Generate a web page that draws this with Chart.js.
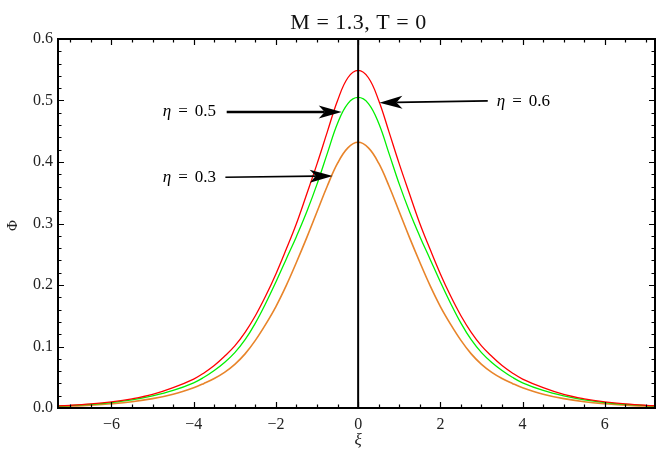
<!DOCTYPE html>
<html>
<head>
<meta charset="utf-8">
<script src="https://cdn.jsdelivr.net/npm/chart.js@4.4.0/dist/chart.umd.min.js"></script>
<style>
html,body{margin:0;padding:0;background:#fff;}
#wrap{width:659px;height:450px;position:relative;}
</style>
</head>
<body>
<div id="wrap"><canvas id="c" width="659" height="450"></canvas></div>
<script>
// ---- data ----
const xiValues = [-7.5,-7,-6.5,-6,-5.5,-5,-4.5,
  -4,-3.75,-3.5,-3.25,-3,-2.75,-2.5,-2.25,-2,-1.75,-1.5,-1.25,-1,-0.75,-0.5,-0.25,0,
  0.25,0.5,0.75,1,1.25,1.5,1.75,2,2.25,2.5,2.75,3,3.25,3.5,3.75,4,
  4.5,5,5.5,6,6.5,7,7.5];
const phiEta06 = [0.0029,0.0044,0.0066,0.0099,0.0148,0.022,0.033,
  0.047,0.057,0.069,0.084,0.101,0.123,0.150,0.182,0.218,0.258,0.300,0.348,0.397,0.449,0.500,0.537,0.549,
  0.537,0.500,0.449,0.397,0.348,0.300,0.258,0.218,0.182,0.150,0.123,0.101,0.084,0.069,0.057,0.047,
  0.033,0.022,0.0148,0.0099,0.0066,0.0044,0.0029];
const phiEta05 = [0.0026,0.0039,0.0059,0.0089,0.0133,0.0197,0.0285,
  0.041,0.050,0.061,0.074,0.090,0.111,0.138,0.170,0.205,0.242,0.279,0.319,0.364,0.414,0.463,0.495,0.505,
  0.495,0.463,0.414,0.364,0.319,0.279,0.242,0.205,0.170,0.138,0.111,0.090,0.074,0.061,0.050,0.041,
  0.0285,0.0197,0.0133,0.0089,0.0059,0.0039,0.0026];
const phiEta03 = [0.0021,0.0031,0.0046,0.0069,0.0102,0.0152,0.0225,
  0.033,0.040,0.048,0.058,0.071,0.088,0.110,0.136,0.165,0.199,0.237,0.277,0.319,0.361,0.398,0.423,0.432,
  0.423,0.398,0.361,0.319,0.277,0.237,0.199,0.165,0.136,0.110,0.088,0.071,0.058,0.048,0.040,0.033,
  0.0225,0.0152,0.0102,0.0069,0.0046,0.0031,0.0021];
const etaValues = ['0.6','0.5','0.3'];
const xTickValues = [-6,-4,-2,0,2,4,6];
const xTickLabels = ['\u22126','\u22124','\u22122','0','2','4','6'];
const yTickValues = [0,0.1,0.2,0.3,0.4,0.5,0.6];
const yTickLabels = ['0.0','0.1','0.2','0.3','0.4','0.5','0.6'];
const titleText = 'M = 1.3, T = 0';
const xAxisTitle = '\u03BE';
const yAxisTitle = '\u03A6';

// ---- annotation placement (data coordinates) ----
const notes = [
  {eta:'0.5', align:'right', tx:-3.455, ty:0.4814, from:[-3.197,0.4814], to:[-0.40,0.4814], lw:2.4},
  {eta:'0.3', align:'right', tx:-3.455, ty:0.3753, from:[-3.229,0.3753], to:[-0.618,0.3774], lw:1.6},
  {eta:'0.6', align:'left',  tx:3.372,  ty:0.498,  from:[3.153,0.4993],  to:[0.518,0.4965],  lw:1.8}
];

const serif = '"Liberation Serif","DejaVu Serif",serif';
const colors = ['#ff0000','#00f000','#e8842a'];

function pts(ys){ return xiValues.map((x,i)=>({x:x,y:ys[i]})); }

const framePlugin = {
  id:'frame',
  afterDatasetsDraw(chart){
    const ctx = chart.ctx, a = chart.chartArea, xs = chart.scales.x, ys = chart.scales.y;
    ctx.save();
    // vertical axis at xi = 0
    const x0 = xs.getPixelForValue(0);
    ctx.strokeStyle = '#000'; ctx.lineWidth = 2;
    ctx.beginPath(); ctx.moveTo(x0,a.top); ctx.lineTo(x0,a.bottom); ctx.stroke();

    // arrows
    notes.forEach(n=>{
      const fx = xs.getPixelForValue(n.from[0]), fy = ys.getPixelForValue(n.from[1]);
      const tx = xs.getPixelForValue(n.to[0]),   ty = ys.getPixelForValue(n.to[1]);
      const ang = Math.atan2(ty-fy, tx-fx);
      const L = 23, W = 6.5, N = 17;
      ctx.strokeStyle = '#000'; ctx.fillStyle = '#000'; ctx.lineWidth = n.lw;
      ctx.beginPath(); ctx.moveTo(fx,fy);
      ctx.lineTo(tx - Math.cos(ang)*N, ty - Math.sin(ang)*N); ctx.stroke();
      ctx.save(); ctx.translate(tx,ty); ctx.rotate(ang);
      ctx.beginPath(); ctx.moveTo(0,0); ctx.lineTo(-L,-W); ctx.lineTo(-N,0); ctx.lineTo(-L,W); ctx.closePath(); ctx.fill();
      ctx.restore();
      // label
      const px = xs.getPixelForValue(n.tx), py = ys.getPixelForValue(n.ty);
      ctx.textBaseline = 'middle'; ctx.textAlign = 'left';
      ctx.font = 'italic 17px ' + serif;
      const wEta = ctx.measureText('\u03B7').width;
      ctx.font = '17px ' + serif;
      const wEq = ctx.measureText('=').width;
      const wNum = ctx.measureText(n.eta).width;
      const gap = 7;
      const total = wEta + gap + wEq + gap + wNum;
      const left = n.align === 'right' ? px - total : px;
      ctx.font = 'italic 17px ' + serif; ctx.fillText('\u03B7', left, py);
      ctx.font = '17px ' + serif;
      ctx.fillText('=', left + wEta + gap, py);
      ctx.fillText(n.eta, left + wEta + gap + wEq + gap, py);
    });

    // frame
    ctx.strokeStyle = '#000'; ctx.lineWidth = 2;
    ctx.strokeRect(a.left, a.top, a.right - a.left, a.bottom - a.top);

    // x ticks (bottom and top)
    ctx.lineWidth = 1.2;
    const minorX = [];
    for (let v = Math.ceil(xs.min/0.5)*0.5; v <= xs.max + 1e-9; v += 0.5) minorX.push(v);
    minorX.forEach(v=>{
      const major = xTickValues.some(t=>Math.abs(t-v)<1e-9);
      const len = major ? 6 : 3.5;
      const p = Math.round(xs.getPixelForValue(v)) + 0.5;
      ctx.beginPath();
      ctx.moveTo(p, a.bottom); ctx.lineTo(p, a.bottom - len);
      ctx.moveTo(p, a.top); ctx.lineTo(p, a.top + len);
      ctx.stroke();
    });
    // y ticks (left and right)
    for (let k = 0; k <= 30; k++){
      const v = k*0.02;
      const major = (k % 5 === 0);
      const len = major ? 6 : 3.5;
      const p = Math.round(ys.getPixelForValue(v)) + 0.5;
      ctx.beginPath();
      ctx.moveTo(a.left, p); ctx.lineTo(a.left + len, p);
      ctx.moveTo(a.right, p); ctx.lineTo(a.right - len, p);
      ctx.stroke();
    }

    // tick labels
    ctx.fillStyle = '#222';
    ctx.font = '16px ' + serif;
    ctx.textAlign = 'center'; ctx.textBaseline = 'middle';
    xTickValues.forEach((v,i)=>{
      ctx.fillText(xTickLabels[i], xs.getPixelForValue(v), a.bottom + 17);
    });
    ctx.textAlign = 'right';
    yTickValues.forEach((v,i)=>{
      ctx.fillText(yTickLabels[i], a.left - 5, ys.getPixelForValue(v));
    });

    // axis titles
    ctx.fillStyle = '#222';
    ctx.font = 'italic 17px ' + serif;
    ctx.textAlign = 'center'; ctx.textBaseline = 'middle';
    ctx.fillText(xAxisTitle, xs.getPixelForValue(0), a.bottom + 33);
    ctx.save();
    ctx.translate(13, (a.top + a.bottom)/2 + 2);
    ctx.rotate(-Math.PI/2);
    ctx.font = '15px ' + serif;
    ctx.fillText(yAxisTitle, 0, 0);
    ctx.restore();

    // title
    ctx.font = '22px ' + serif;
    ctx.textAlign = 'center'; ctx.textBaseline = 'alphabetic';
    ctx.fillStyle = '#111';
    if ('letterSpacing' in ctx) ctx.letterSpacing = '0.5px';
    ctx.fillText(titleText, (a.left + a.right)/2 + 2, 29);
    ctx.restore();
  }
};

new Chart(document.getElementById('c'), {
  type:'line',
  data:{
    datasets:[
      {label:'\u03B7 = ' + etaValues[0], data:pts(phiEta06), borderColor:colors[0], borderWidth:1.3, pointRadius:0, tension:0.4, fill:false},
      {label:'\u03B7 = ' + etaValues[1], data:pts(phiEta05), borderColor:colors[1], borderWidth:1.3, pointRadius:0, tension:0.4, fill:false},
      {label:'\u03B7 = ' + etaValues[2], data:pts(phiEta03), borderColor:colors[2], borderWidth:1.6, pointRadius:0, tension:0.4, fill:false}
    ]
  },
  options:{
    responsive:false,
    animation:false,
    layout:{padding:{left:58, right:4, top:39, bottom:42}},
    plugins:{legend:{display:false}, title:{display:false}, tooltip:{enabled:false}},
    scales:{
      x:{type:'linear', min:-7.3, max:7.22, display:false},
      y:{type:'linear', min:0, max:0.6, display:false}
    }
  },
  plugins:[framePlugin]
});
</script>
</body>
</html>
